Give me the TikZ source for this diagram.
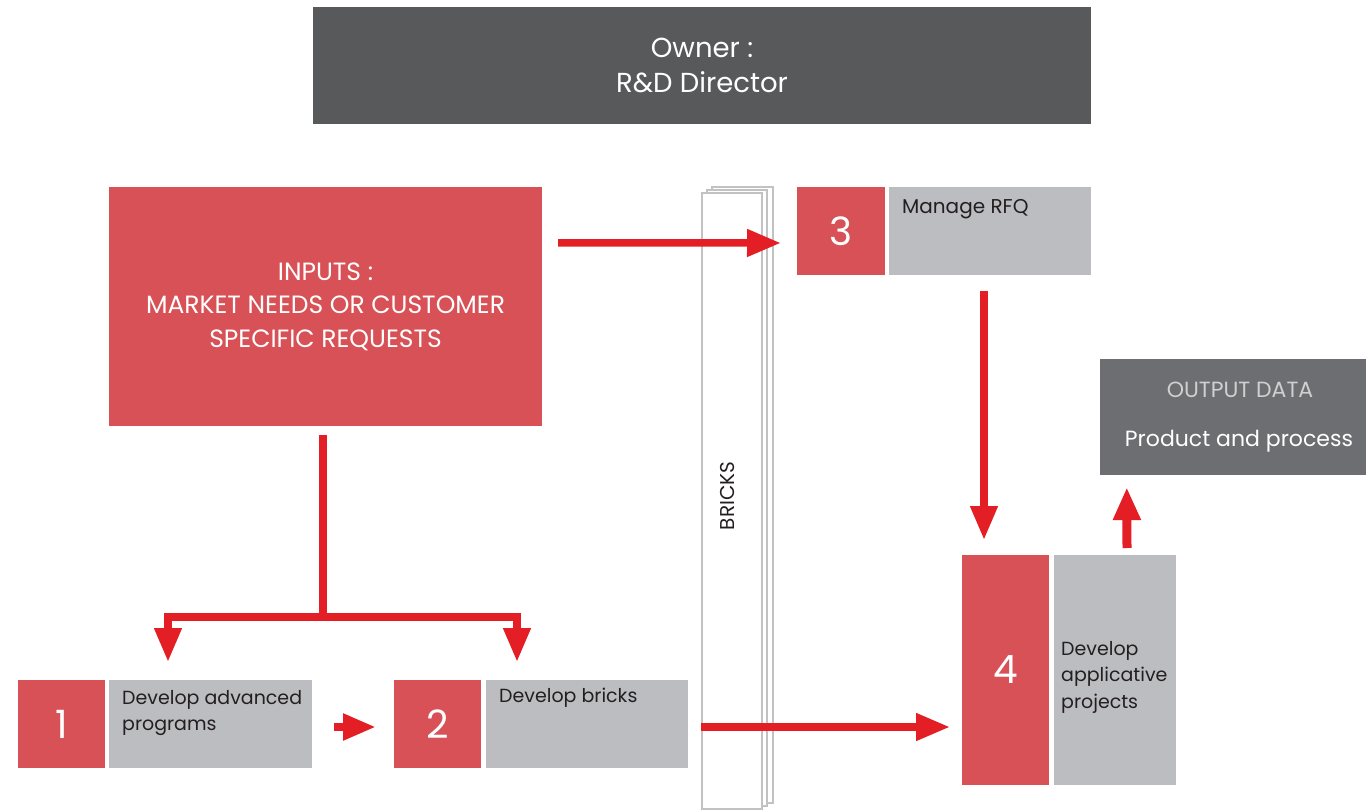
\documentclass[tikz,border=0pt]{standalone}
\usepackage{fontspec}
\setmainfont{Poppins}
\usetikzlibrary{arrows.meta,calc}
\definecolor{boxred}{HTML}{D75156}
\definecolor{boxgray}{HTML}{BCBDC1}
\definecolor{owngray}{HTML}{58595B}
\definecolor{outgray}{HTML}{6D6E71}
\definecolor{arrred}{HTML}{E31E24}
\definecolor{pagegray}{HTML}{C2C2C2}
\definecolor{txtdark}{HTML}{231F20}
\definecolor{outlight}{HTML}{D0D0D0}
\begin{document}
\begin{tikzpicture}[x=1pt,y=-1pt,
  redbox/.style={fill=boxred,text=white,inner sep=0pt,outer sep=0pt,font=\fontsize{39}{39}\selectfont},
  graybox/.style={fill=boxgray,inner sep=0pt,outer sep=0pt},
  boxtext/.style={anchor=north west,inner sep=0pt,align=left,text=txtdark,font=\fontsize{19}{26.5}\selectfont},
  arr/.style={draw=arrred,line width=7.5pt,-{Triangle[length=34pt,width=26pt]}},
  pagesheet/.style={draw=pagegray,line width=2pt,fill=white}]
\useasboundingbox (0,0) rectangle (1366,810);
\fill[white] (0,0) rectangle (1366,810);

% owner
\node[fill=owngray,text=white,inner sep=0pt,minimum width=778pt,minimum height=117pt,align=center,
  font=\fontsize{27.5}{35}\selectfont] (owner) at (702,65.5) {Owner :\\R\&D Director};

% inputs
\node[fill=boxred,text=white,inner sep=0pt,minimum width=433pt,minimum height=239pt,align=center,
  font=\fontsize{25}{33.5}\selectfont] (inputs) at (325.5,306.5) {INPUTS :\\MARKET NEEDS OR CUSTOMER\\SPECIFIC REQUESTS};

% bricks stack
\draw[pagesheet] (712,187) rectangle (773,803);
\draw[pagesheet] (707,190) rectangle (767,806);
\node[pagesheet,inner sep=0pt,minimum width=60pt,minimum height=616pt] (bricks) at (732,501) {};
\node[rotate=90,text=txtdark,inner sep=0pt,font=\fontsize{20}{20}\selectfont] (brickstext) at (728,496) {BRICKS};

% step 3
\node[redbox,minimum width=88pt,minimum height=88pt] (n3) at (841,231) {3};
\node[graybox,minimum width=202pt,minimum height=88pt] (g3) at (990,231) {};
\node[boxtext,font=\fontsize{20}{26.5}\selectfont] (t3) at ($(g3.north west)+(13,12)$) {Manage RFQ};

% output
\node[fill=outgray,inner sep=0pt,minimum width=266pt,minimum height=116pt] (out) at (1233,417) {};
\node[text=outlight,inner sep=0pt,font=\fontsize{22}{22}\selectfont] (outa) at (1240,390) {OUTPUT DATA};
\node[text=white,inner sep=0pt,font=\fontsize{22}{22}\selectfont] (outb) at (1239,441) {Product and process};

% step 4
\node[redbox,minimum width=87pt,minimum height=230pt] (n4) at (1005.5,670) {4};
\node[graybox,minimum width=122pt,minimum height=230pt] (g4) at (1115,670) {};
\node[boxtext] (t4) at ($(g4.north west)+(7,86)$) {Develop\\applicative\\projects};

% step 1
\node[redbox,minimum width=87pt,minimum height=88pt] (n1) at (61.5,724) {1};
\node[graybox,minimum width=203pt,minimum height=88pt] (g1) at (210.5,724) {};
\node[boxtext] (t1) at ($(g1.north west)+(13,10)$) {Develop advanced\\programs};

% step 2
\node[redbox,minimum width=87pt,minimum height=88pt] (n2) at (437.5,724) {2};
\node[graybox,minimum width=202pt,minimum height=88pt] (g2) at (587,724) {};
\node[boxtext] (t2) at ($(g2.north west)+(13,8)$) {Develop bricks};

% connectors
\draw[arr] ($(inputs.north east)+(16,56)$) -- ($(n3.west)+(-16,12)$);
\draw[arr] ($(g3.south west)+(95,16)$) -- ($(n4.north west)+(22,-15)$);
\coordinate (split) at ($(inputs.south)+(-2.5,191)$);
\draw[draw=arrred,line width=7.5pt] ($(inputs.south)+(-2.5,9)$) -- (split);
\draw[arr,line join=miter] (split) -| ($(g1.north west)+(59,-18)$);
\draw[arr,line join=miter] (split) -| ($(g2.north west)+(31,-18)$);
\draw[arr,line width=8pt,-{Triangle[length=33pt,width=25pt]}] ($(g1.east)+(22,3)$) -- ($(n2.west)+(-18,3)$);
\draw[arr] (bricks.west |- 0,727) -- ($(n4.west)+(-12,57)$);
\draw[arr,line width=9pt,-{Triangle[length=33pt,width=26pt]}] ($(g4.north west)+(73,-7)$) -- ($(out.south west)+(27,12)$);
\end{tikzpicture}
\end{document}
